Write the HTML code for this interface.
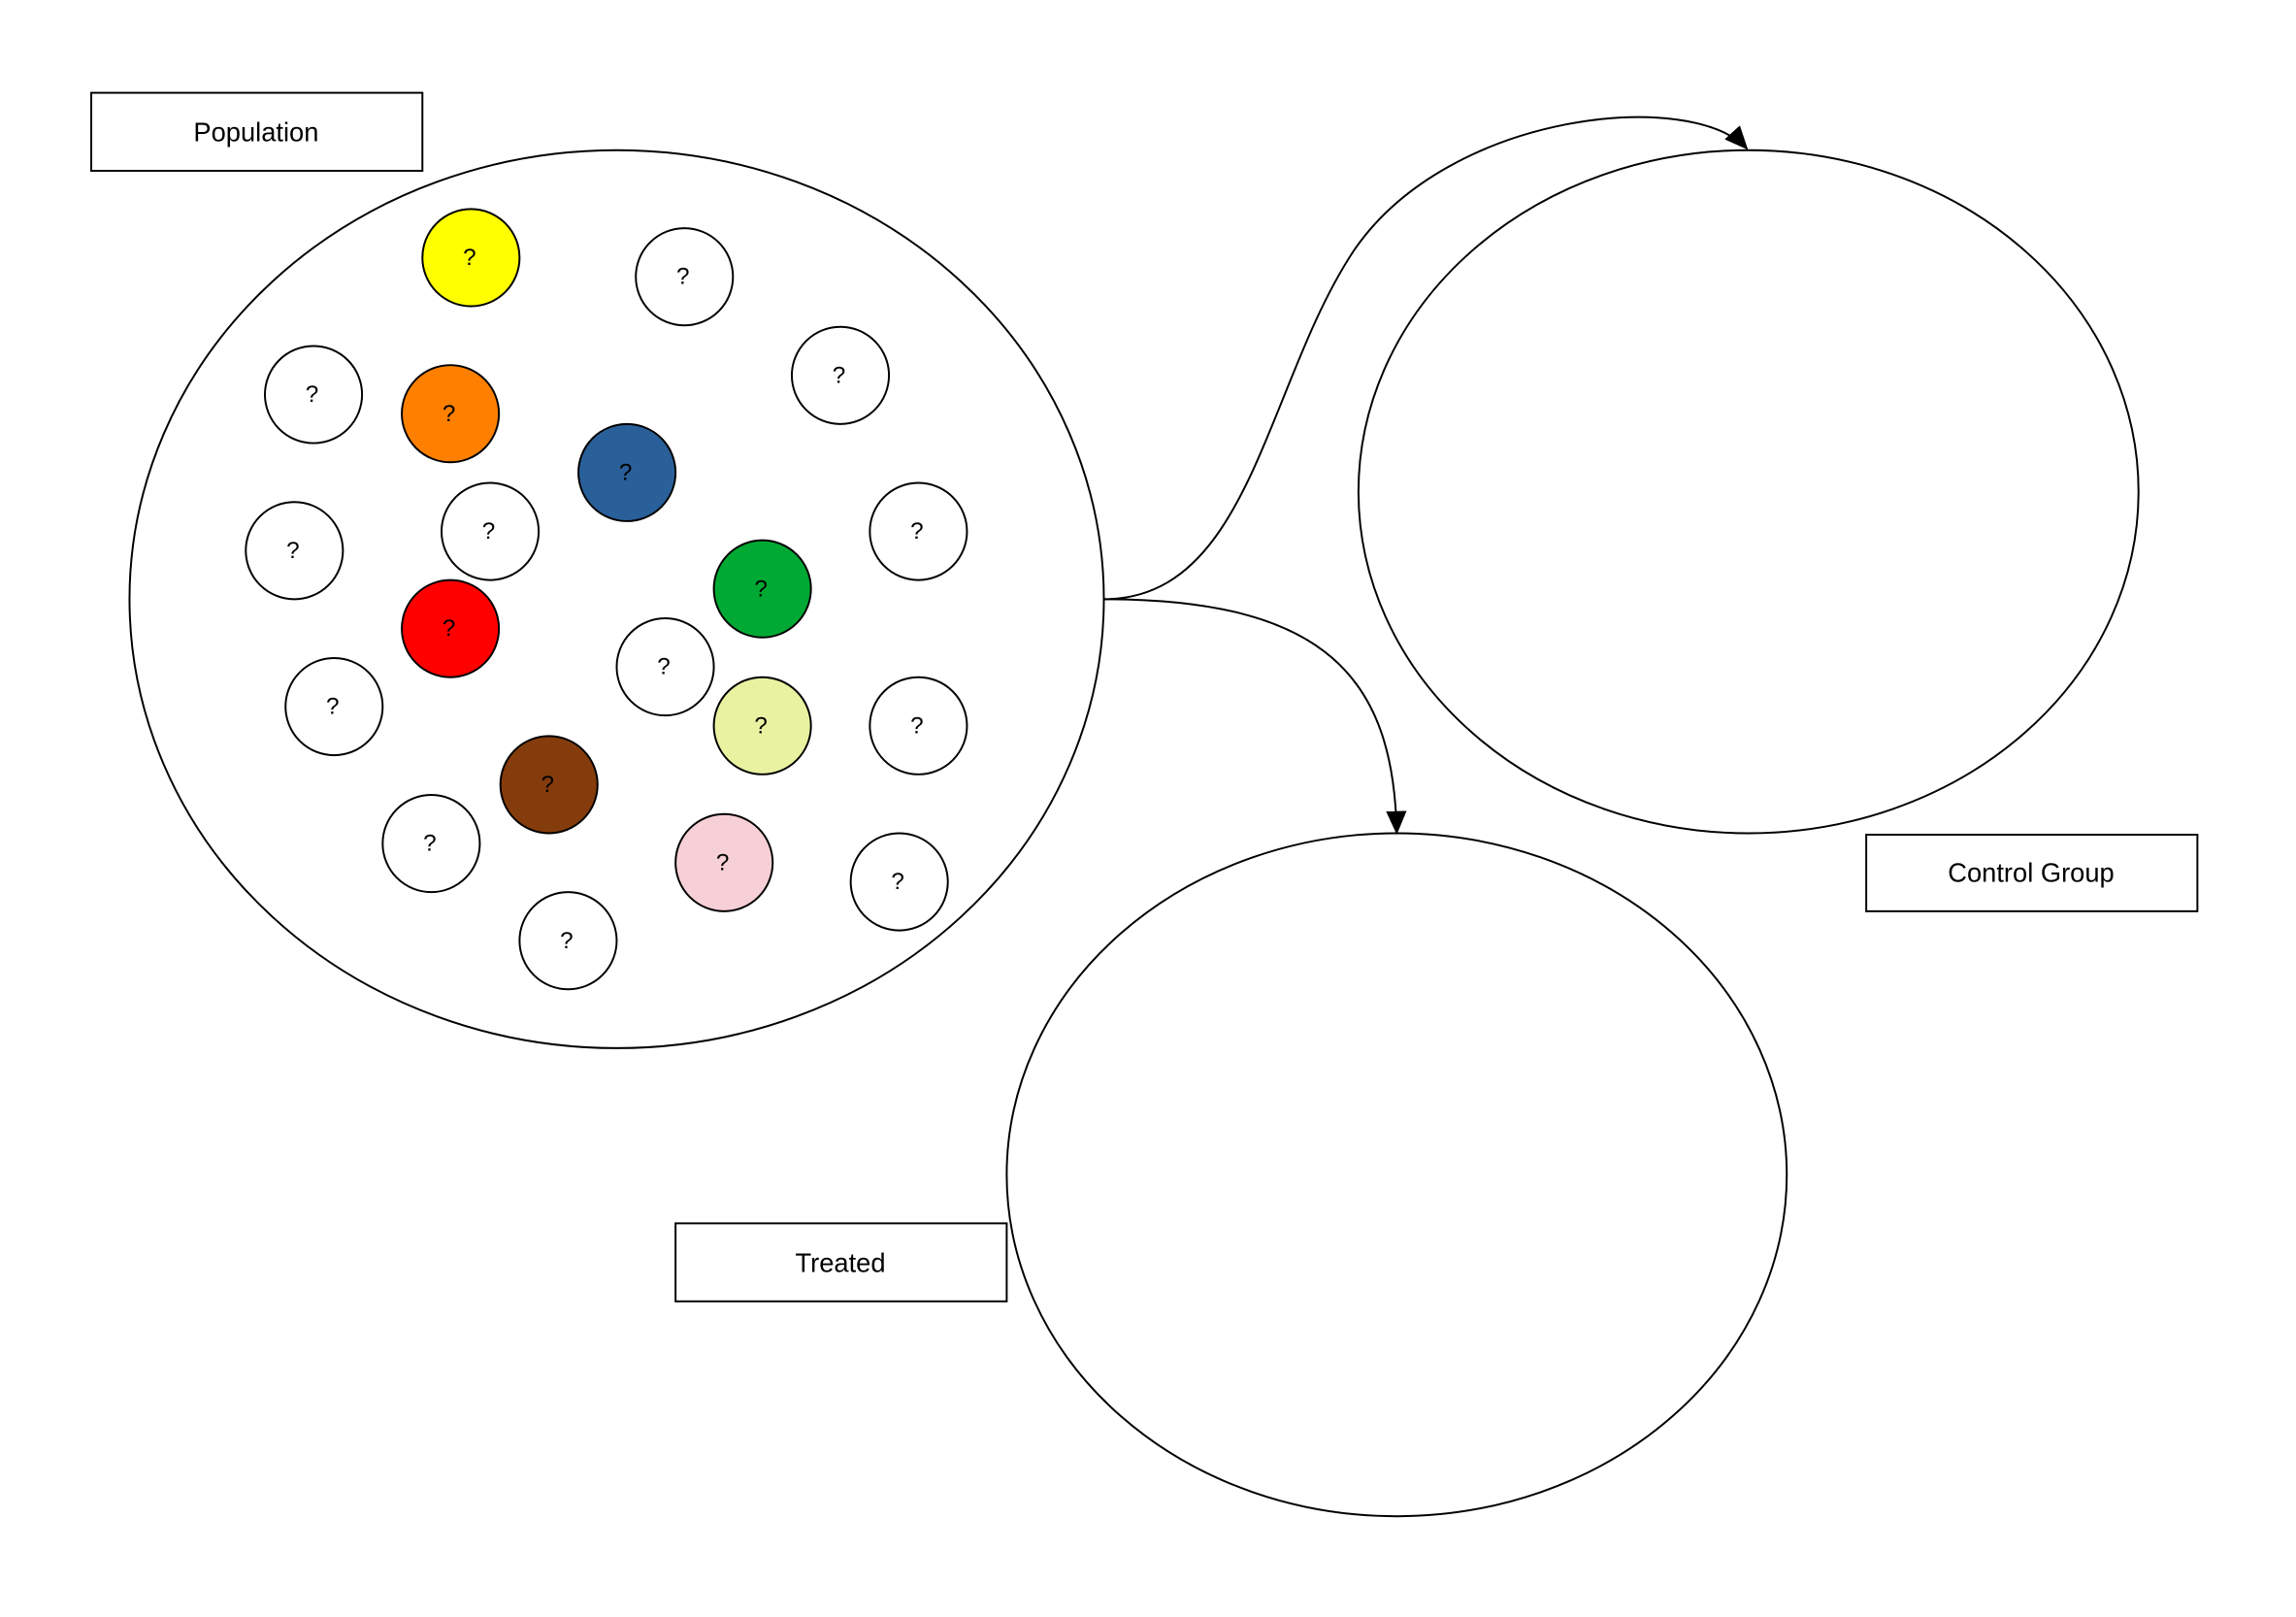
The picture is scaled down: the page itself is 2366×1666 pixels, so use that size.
<!DOCTYPE html>
<html><head><meta charset="utf-8"><style>
html,body{margin:0;padding:0;background:#fff;}
svg{display:block;}
text{font-family:"Liberation Sans",Arial,sans-serif;fill:#000;}
</style></head><body>
<svg width="2366" height="1666" viewBox="0 0 1560 1098.4" xmlns="http://www.w3.org/2000/svg">
<defs>
<marker id="ah" markerWidth="16" markerHeight="14" refX="15" refY="7" orient="auto" markerUnits="userSpaceOnUse">
<path d="M0,0 L16,7 L0,14 Z" fill="#000"/>
</marker>
</defs>
<g fill="none" stroke="#000" stroke-width="1.3">
<rect x="62" y="63" width="225" height="53" fill="#fff"/>
<rect x="1268" y="567" width="225" height="52" fill="#fff"/>
<rect x="459" y="831" width="225" height="53" fill="#fff"/>
<ellipse cx="419" cy="407" rx="331" ry="305"/>
<ellipse cx="1188" cy="334" rx="265" ry="232"/>
<ellipse cx="949" cy="798" rx="265" ry="232"/>
<path d="M750,407 C850,407 860,260 920,170 C985,75 1150,60 1187,101" marker-end="url(#ah)"/>
<path d="M750,407 C900,407 947,460 949,566" marker-end="url(#ah)"/>
</g>
<g stroke="#000" stroke-width="1.3">
<circle cx="320" cy="175" r="33" fill="#ffff00"/>
<circle cx="465" cy="188" r="33" fill="#fff"/>
<circle cx="213" cy="268" r="33" fill="#fff"/>
<circle cx="306" cy="281" r="33" fill="#ff8000"/>
<circle cx="571" cy="255" r="33" fill="#fff"/>
<circle cx="426" cy="321" r="33" fill="#2a6099"/>
<circle cx="333" cy="361" r="33" fill="#fff"/>
<circle cx="200" cy="374" r="33" fill="#fff"/>
<circle cx="624" cy="361" r="33" fill="#fff"/>
<circle cx="518" cy="400" r="33" fill="#00a933"/>
<circle cx="306" cy="427" r="33" fill="#ff0000"/>
<circle cx="452" cy="453" r="33" fill="#fff"/>
<circle cx="227" cy="480" r="33" fill="#fff"/>
<circle cx="518" cy="493" r="33" fill="#e8f2a1"/>
<circle cx="624" cy="493" r="33" fill="#fff"/>
<circle cx="373" cy="533" r="33" fill="#843c0c"/>
<circle cx="293" cy="573" r="33" fill="#fff"/>
<circle cx="492" cy="586" r="33" fill="#f6d0d6"/>
<circle cx="611" cy="599" r="33" fill="#fff"/>
<circle cx="386" cy="639" r="33" fill="#fff"/>
</g>
<g font-size="16" text-anchor="middle">
<text x="319" y="180">?</text>
<text x="464" y="193">?</text>
<text x="212" y="273">?</text>
<text x="305" y="286">?</text>
<text x="570" y="260">?</text>
<text x="425" y="326">?</text>
<text x="332" y="366">?</text>
<text x="199" y="379">?</text>
<text x="623" y="366">?</text>
<text x="517" y="405">?</text>
<text x="305" y="432">?</text>
<text x="451" y="458">?</text>
<text x="226" y="485">?</text>
<text x="517" y="498">?</text>
<text x="623" y="498">?</text>
<text x="372" y="538">?</text>
<text x="292" y="578">?</text>
<text x="491" y="591">?</text>
<text x="610" y="604">?</text>
<text x="385" y="644">?</text>
</g>
<g font-size="18" text-anchor="middle">
<text x="174" y="96">Population</text>
<text x="1380" y="599">Control Group</text>
<text x="571" y="864">Treated</text>
</g>
</svg>
</body></html>
